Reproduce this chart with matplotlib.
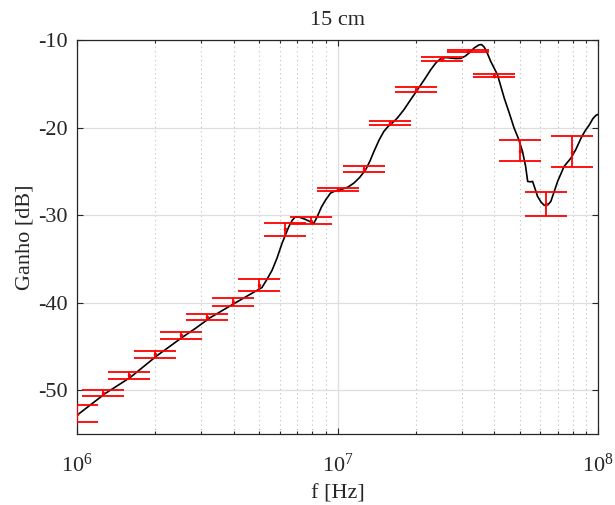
import numpy as np
import matplotlib
matplotlib.use("Agg")
import matplotlib.pyplot as plt
from matplotlib.ticker import LogLocator, NullFormatter

# Measured transfer curve (log10 of frequency in Hz, gain in dB)
curve_logf = [6.000, 6.108, 6.204, 6.306, 6.403, 6.454, 6.512, 6.608, 6.710,
              6.728, 6.749, 6.768, 6.787, 6.813, 6.826, 6.838, 6.855, 6.877,
              6.909, 6.922, 6.938, 6.954, 6.973, 6.990, 7.012, 7.040, 7.063,
              7.085, 7.108, 7.125, 7.140, 7.160, 7.178, 7.195, 7.210, 7.230,
              7.255, 7.280, 7.307, 7.335, 7.358, 7.378, 7.396, 7.415, 7.435,
              7.455, 7.473, 7.490, 7.505, 7.525, 7.543, 7.553, 7.563, 7.575,
              7.588, 7.614, 7.640, 7.660, 7.678, 7.695, 7.710, 7.722, 7.730,
              7.740, 7.749, 7.768, 7.781, 7.794, 7.807, 7.819, 7.832, 7.845,
              7.870, 7.896, 7.915, 7.935, 7.950, 7.967, 7.980, 7.992, 8.000]
curve_gain = [-52.86, -50.38, -48.55, -46.08, -43.98, -42.95, -41.70, -40.02, -38.27,
              -37.40, -36.29, -34.90, -33.23, -31.33, -30.60, -30.19, -30.25, -30.49,
              -30.95, -30.19, -29.10, -28.29, -27.49, -27.25, -27.10, -26.80, -26.34,
              -25.70, -24.82, -23.80, -22.72, -21.40, -20.44, -19.85, -19.49, -18.90,
              -17.96, -16.85, -15.68, -14.45, -13.39, -12.60, -12.13, -12.00, -12.06,
              -12.12, -12.10, -11.85, -11.49, -10.90, -10.56, -10.52, -10.80, -11.50,
              -12.43, -13.96, -16.63, -18.40, -20.06, -21.30, -22.72, -24.40, -26.15,
              -26.20, -26.15, -27.86, -28.50, -28.89, -28.85, -28.43, -27.30, -26.15,
              -24.43, -23.49, -22.50, -21.20, -20.40, -19.68, -19.00, -18.61, -18.50]

# Averaged points with their spread (10 points per decade)
bar_logf = [6.0, 6.1, 6.2, 6.3, 6.4, 6.5, 6.6, 6.7, 6.8, 6.9,
            7.0, 7.1, 7.2, 7.3, 7.4, 7.5, 7.6, 7.7, 7.8, 7.9]
bar_mean = [-52.67, -50.29, -48.30, -45.89, -43.73, -41.68, -39.91, -38.00, -31.60, -30.67,
            -27.10, -24.77, -19.52, -15.68, -12.15, -11.26, -14.06, -22.63, -28.73, -22.75]
bar_err = [0.95, 0.37, 0.40, 0.39, 0.37, 0.33, 0.46, 0.65, 0.75, 0.40,
           0.19, 0.33, 0.23, 0.27, 0.21, 0.14, 0.21, 1.24, 1.32, 1.80]

y_ticks = [-50, -40, -30, -20, -10]

plt.rcParams['font.family'] = ['Liberation Serif', 'DejaVu Serif']
plt.rcParams['mathtext.fontset'] = 'custom'
plt.rcParams['mathtext.rm'] = 'Liberation Serif'
plt.rcParams['mathtext.it'] = 'Liberation Serif:italic'
plt.rcParams['axes.unicode_minus'] = False

ink = '#262626'
fs = 16

fig = plt.figure(figsize=(6.15, 5.05), dpi=100)
ax = fig.add_axes([77 / 615, 1 - 434 / 505, 521 / 615, 394 / 505])

ax.plot(10 ** np.array(curve_logf), curve_gain, color='black', lw=1.2, zorder=3)
ax.errorbar(10 ** np.array(bar_logf), bar_mean, yerr=bar_err, fmt='.', color='red',
            ms=3, capsize=15, elinewidth=1.3, capthick=1.3, zorder=4)

ax.set_xscale('log')
ax.set_xlim(1e6, 1e8)
ax.set_ylim(-55, -10)
ax.set_yticks(y_ticks)
ax.xaxis.set_minor_locator(LogLocator(base=10, subs=np.arange(2, 10), numticks=20))
ax.xaxis.set_minor_formatter(NullFormatter())

ax.set_axisbelow(True)
ax.grid(which='major', color='#dedede', lw=0.9, ls='-')
ax.grid(which='minor', axis='x', color='#bdbdbd', lw=0.8, ls=(0, (1, 3)))

ax.tick_params(which='both', direction='in', top=True, right=True, colors=ink,
               labelcolor=ink, labelsize=fs, width=0.8)
ax.tick_params(which='major', length=4.5)
ax.tick_params(which='minor', length=2.5)
ax.tick_params(axis='y', pad=7)
ax.tick_params(axis='x', pad=14)
for s in ax.spines.values():
    s.set_color(ink)
    s.set_linewidth(0.9)

ax.set_title('15 cm', fontsize=fs, color=ink, pad=11)
ax.set_xlabel('f [Hz]', fontsize=fs, color=ink, labelpad=6)
ax.set_ylabel('Ganho [dB]', fontsize=fs, color=ink, labelpad=2)

fig.savefig('out.png', dpi=100)
